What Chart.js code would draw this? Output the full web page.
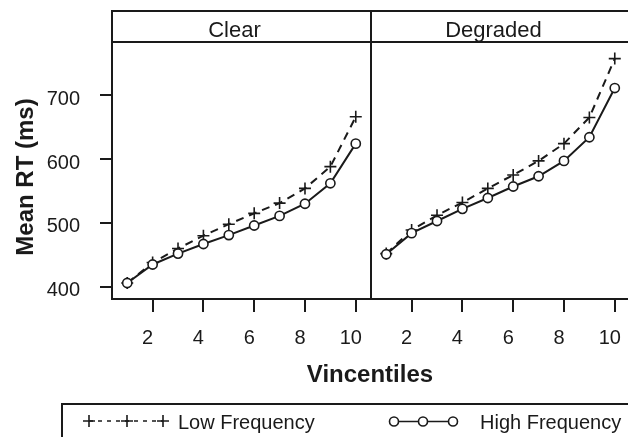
<!DOCTYPE html>
<html>
<head>
<meta charset="utf-8">
<script src="https://cdn.jsdelivr.net/npm/chart.js@4.4.1/dist/chart.umd.min.js"></script>
<style>
  body { margin: 0; background: #fff; }
  #wrap { position: relative; width: 628px; height: 437px; overflow: hidden;
          font-family: "Liberation Sans", Arial, sans-serif; color: #1a1a1a; }
  canvas { position: absolute; top: 0; }
  #cLeft { left: 0; }
  #cRight { left: 366px; }
  .title { position: absolute; width: 200px; height: 30px; line-height: 30px;
           text-align: center; font-weight: bold; font-size: 24px; white-space: nowrap; }
  #ytitle { left: -75px; top: 162px; transform: rotate(-90deg); }
  #xtitle { left: 270px; top: 359px; }
  #legend { position: absolute; left: 61px; top: 403px; width: 640px; height: 80px;
            border-top: 2px solid #1a1a1a; border-left: 2px solid #1a1a1a; }
  .legtext { position: absolute; top: 410px; font-size: 20px; line-height: 24px; white-space: nowrap; }
  #legsym { position: absolute; left: 0; top: 0; }
</style>
</head>
<body>
<div id="wrap">
  <canvas id="cLeft" width="372" height="360"></canvas>
  <canvas id="cRight" width="266" height="360"></canvas>
  <div class="title" id="ytitle">Mean RT (ms)</div>
  <div class="title" id="xtitle">Vincentiles</div>
  <div id="legend"></div>
  <svg id="legsym" width="628" height="437">
    <line x1="89" y1="421" x2="163" y2="421" stroke="#1a1a1a" stroke-width="1.5" stroke-dasharray="4 5"/>
    <path d="M83 421h12M89 415v12M121 421h12M127 415v12M157 421h12M163 415v12" stroke="#1a1a1a" stroke-width="1.6" fill="none"/>
    <line x1="394" y1="421.5" x2="453" y2="421.5" stroke="#1a1a1a" stroke-width="1.6"/>
    <circle cx="394" cy="421.5" r="4.5" fill="#fff" stroke="#1a1a1a" stroke-width="1.6"/>
    <circle cx="423" cy="421.5" r="4.5" fill="#fff" stroke="#1a1a1a" stroke-width="1.6"/>
    <circle cx="453" cy="421.5" r="4.5" fill="#fff" stroke="#1a1a1a" stroke-width="1.6"/>
  </svg>
  <div class="legtext" style="left:178px">Low Frequency</div>
  <div class="legtext" style="left:480px">High Frequency</div>
</div>
<script>
/* ===== data ===== */
const vincentiles  = [1, 2, 3, 4, 5, 6, 7, 8, 9, 10];
const clearLow     = [406, 438, 460, 480, 498, 515, 531, 554, 588, 666];
const clearHigh    = [406, 435, 452, 467, 481, 496, 511, 530, 562, 624];
const degradedLow  = [452, 489, 512, 532, 554, 575, 597, 624, 665, 757];
const degradedHigh = [451, 484, 503, 522, 539, 557, 573, 597, 634, 711];
const yTicks = [400, 500, 600, 700];
const xTicks = [2, 4, 6, 8, 10];

const INK  = "#1a1a1a";
const FONT = '"Liberation Sans", Arial, sans-serif';

/* ===== panel frame + strip ===== */
const panelFrame = {
  id: "panelFrame",
  afterDatasetsDraw(chart, args, opts) {
    const { ctx, chartArea: a } = chart;
    ctx.save();
    ctx.strokeStyle = INK;
    ctx.lineWidth = 2;
    ctx.strokeRect(a.left, a.top, a.right - a.left, a.bottom - a.top);
    ctx.strokeRect(a.left, a.top - 31, a.right - a.left, 31);
    ctx.fillStyle = INK;
    ctx.font = "22px " + FONT;
    ctx.textAlign = "center";
    ctx.textBaseline = "alphabetic";
    ctx.fillText(opts.text, (a.left + a.right) / 2 - 7, a.top - 5);
    ctx.restore();
  }
};

function points(ys) {
  return vincentiles.map((x, i) => ({ x, y: ys[i] }));
}

function makePanel(id, low, high, strip, showY, pad) {
  return new Chart(document.getElementById(id), {
    type: "line",
    data: {
      datasets: [
        {
          label: "High Frequency",
          data: points(high),
          borderColor: INK,
          borderWidth: 2,
          pointStyle: "circle",
          pointRadius: 4.6,
          pointBorderWidth: 1.6,
          pointBackgroundColor: "#fff",
          pointBorderColor: INK,
          tension: 0
        },
        {
          label: "Low Frequency",
          data: points(low),
          borderColor: INK,
          borderWidth: 2,
          borderDash: [8, 6],
          pointStyle: "cross",
          pointRadius: 6,
          pointBorderWidth: 1.6,
          pointBorderColor: INK,
          tension: 0
        }
      ]
    },
    options: {
      responsive: false,
      animation: false,
      devicePixelRatio: 1,
      events: [],
      layout: { autoPadding: false, padding: pad },
      plugins: {
        legend: { display: false },
        tooltip: { enabled: false },
        panelFrame: { text: strip }
      },
      scales: {
        x: {
          type: "linear",
          min: 0.4,
          max: 10.6,
          afterBuildTicks: s => { s.ticks = xTicks.map(v => ({ value: v })); },
          afterFit: s => { s.height = 61; s.paddingLeft = 0; s.paddingRight = 0; },
          border: { display: false },
          grid: { drawOnChartArea: false, tickLength: 13, color: INK, lineWidth: 2 },
          ticks: { color: INK, font: { family: FONT, size: 20 }, padding: 14, labelOffset: -5, maxRotation: 0 }
        },
        y: {
          display: showY,
          min: 381,
          max: 783,
          afterBuildTicks: s => { s.ticks = yTicks.map(v => ({ value: v })); },
          afterFit: s => { s.width = showY ? 112 : 0; s.paddingTop = 0; s.paddingBottom = 0; },
          border: { display: false },
          grid: { drawOnChartArea: false, tickLength: 12, color: INK, lineWidth: 2 },
          ticks: { color: INK, font: { family: FONT, size: 20 }, padding: 20, labelOffset: 4 }
        }
      }
    },
    plugins: [panelFrame]
  });
}

makePanel("cLeft", clearLow, clearHigh, "Clear", true, { top: 42, right: 1, bottom: 0, left: 0 });
makePanel("cRight", degradedLow, degradedHigh, "Degraded", false, { top: 42, right: 2, bottom: 0, left: 5 });
</script>
</body>
</html>
